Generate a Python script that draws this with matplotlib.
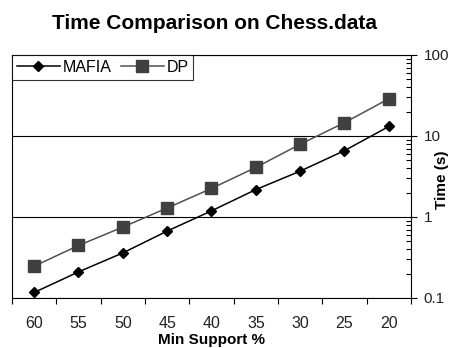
import matplotlib
matplotlib.use("Agg")
import matplotlib.pyplot as plt
from matplotlib.ticker import LogLocator, FixedLocator, NullFormatter

# valores
support = ["60", "55", "50", "45", "40", "35", "30", "25", "20"]
mafia = [0.117, 0.21, 0.36, 0.67, 1.19, 2.18, 3.68, 6.6, 13.1]
dp = [0.247, 0.445, 0.75, 1.29, 2.25, 4.09, 7.9, 14.6, 28.8]
ytick_vals = [0.1, 1, 10, 100]
ytick_labels = ["0.1", "1", "10", "100"]

plt.rcParams["font.family"] = ["Liberation Sans", "DejaVu Sans"]

fig = plt.figure(figsize=(4.51, 3.48), dpi=100)
ax = fig.add_axes([0.0266, 0.1437, 0.8847, 0.6983])

x = list(range(len(support)))
ax.plot(x, mafia, color="black", lw=1.1, marker="D", ms=5.6,
        mfc="black", mec="black", label="MAFIA")
ax.plot(x, dp, color="#505050", lw=1.1, marker="s", ms=8,
        mfc="#404040", mec="#404040", label="DP")

ax.set_yscale("log")
ax.set_ylim(0.1, 100)
ax.set_xlim(-0.5, len(support) - 0.5)

# eixo y do lado direito
ax.yaxis.tick_right()
ax.set_yticks(ytick_vals)
ax.set_yticklabels(ytick_labels)
ax.yaxis.set_minor_locator(LogLocator(base=10, subs=range(2, 10)))
ax.yaxis.set_minor_formatter(NullFormatter())
ax.tick_params(axis="y", which="major", direction="out", length=4,
               width=0.8, pad=5, labelsize=11, labelcolor="#222222")
ax.tick_params(axis="y", which="minor", direction="in", length=3.5,
               width=0.8)
ax.grid(axis="y", which="major", color="black", lw=0.8)

# categorias no eixo x, marcas entre elas
ax.set_xticks(x)
ax.set_xticklabels(support)
ax.xaxis.set_minor_locator(FixedLocator([i - 0.5 for i in range(len(support) + 1)]))
ax.tick_params(axis="x", which="major", length=0, pad=13, labelsize=11.5,
               labelcolor="#222222")
ax.tick_params(axis="x", which="minor", direction="out", length=4, width=0.8)

for s in ax.spines.values():
    s.set_color("black")
    s.set_linewidth(0.8)

# titulos dos eixos colocados na figura (como no original)
fig.text(212 / 451, 1 - 340 / 348, "Min Support %", fontsize=11,
         fontweight="bold", ha="center", va="center")
fig.text(442 / 451, 1 - 180 / 348, "Time (s)", fontsize=11,
         fontweight="bold", ha="center", va="center", rotation=90)

fig.suptitle("Time Comparison on Chess.data", x=215 / 451, y=0.96,
             fontsize=15, fontweight="bold")

leg = ax.legend(loc="upper left", ncol=2, frameon=True, fancybox=False,
                fontsize=11.5, borderaxespad=0, handlelength=2.7,
                handletextpad=0.15, columnspacing=0.6, borderpad=0.3)
leg.get_frame().set_edgecolor("black")
leg.get_frame().set_linewidth(0.8)

fig.savefig("out.png", dpi=100)
